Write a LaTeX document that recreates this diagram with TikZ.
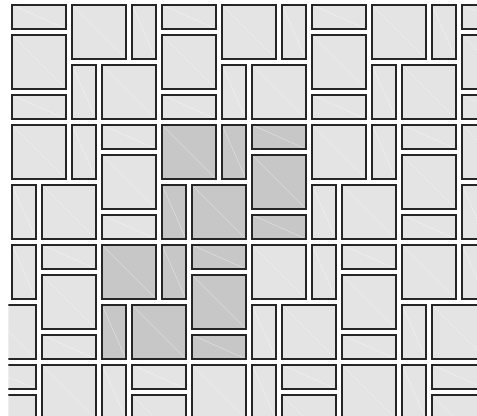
\documentclass[tikz,border=0pt]{standalone}
\usepackage{tikz}

\definecolor{tilelight}{RGB}{228,228,228}
\definecolor{tiledark}{RGB}{199,199,199}

\tikzset{
    tile/.style={draw=black!85, line width=1.1pt, fill=tilelight,
        path picture={\draw[white, opacity=0.6, line width=0.3pt]
            (path picture bounding box.north west) -- (path picture bounding box.south east);}},
    darktile/.style={tile, fill=tiledark}
}

\begin{document}
\begin{tikzpicture}
    % Frame
    \useasboundingbox (0,0) rectangle (15.9,-13.8667);
    \clip (0.277,0) rectangle (15.9,-13.8667);

    % Light tiles: one block of five columns, repeated
    \foreach \k in {-1,0,1,2,3}
        \foreach \c/\r/\w/\h in {0/0/2/1, 2/0/2/2, 4/0/1/2, 0/1/2/2, 2/2/1/2,
                3/2/2/2, 0/3/2/1, 0/4/2/2, 2/4/1/2, 3/4/2/1, 3/5/2/2, 0/6/1/2,
                1/6/2/2, 3/7/2/1, 0/8/1/2, 1/8/2/1, 1/9/2/2, 3/8/2/2, 3/10/1/2,
                4/10/2/2, 1/11/2/1, 4/12/2/1, 1/12/2/2, 3/12/1/2, 4/13/2/2}
            \draw[tile] ({0.4+5*\k+\c},{-1/6-\r}) rectangle ++({\w-0.2},{-\h+0.2});

    % Dark tiles
    \foreach \c/\r/\w/\h in {5/4/2/2, 7/4/1/2, 8/4/2/1, 8/5/2/2, 5/6/1/2, 6/6/2/2,
            8/7/2/1, 3/8/2/2, 5/8/1/2, 6/8/2/1, 6/9/2/2, 3/10/1/2, 4/10/2/2, 6/11/2/1}
        \draw[darktile] ({0.4+\c},{-1/6-\r}) rectangle ++({\w-0.2},{-\h+0.2});
\end{tikzpicture}
\end{document}
